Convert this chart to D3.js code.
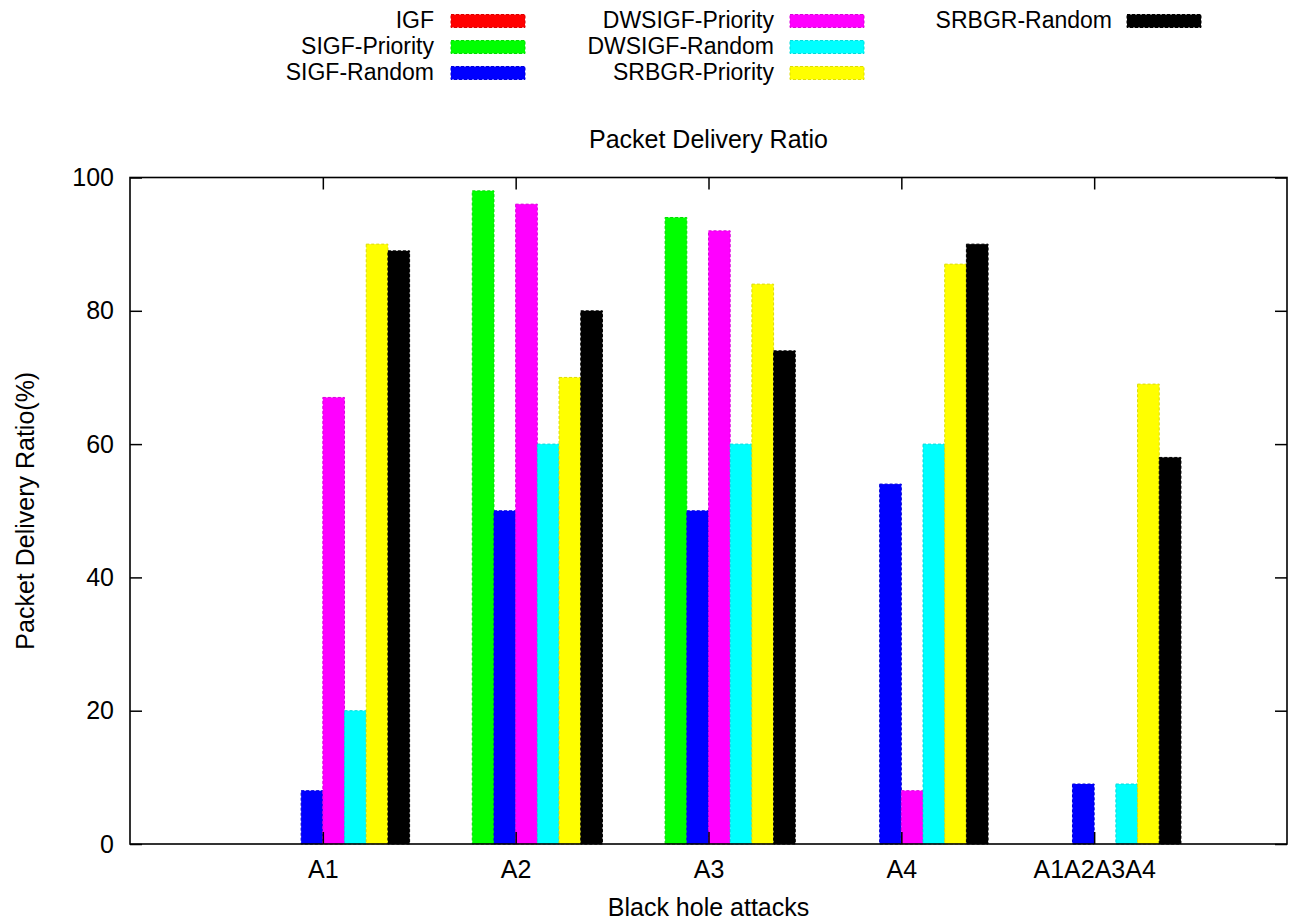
<!DOCTYPE html>
<html>
<head>
<meta charset="utf-8">
<script src="https://cdnjs.cloudflare.com/ajax/libs/d3/7.8.5/d3.min.js"></script>
<style>
  body { margin: 0; background: #fff; }
  svg { display: block; font-family: "Liberation Sans", Arial, sans-serif; }
</style>
</head>
<body>
<svg id="chart" width="1293" height="922"></svg>
<script>
const width = 1293;
const height = 922;

// data
var categories = ["A1", "A2", "A3", "A4", "A1A2A3A4"];
var seriesNames = ["IGF", "SIGF-Priority", "SIGF-Random", "DWSIGF-Priority",
                   "DWSIGF-Random", "SRBGR-Priority", "SRBGR-Random"];
var seriesColors = ["#ff0000", "#00ff00", "#0000ff", "#ff00ff", "#00ffff", "#ffff00", "#000000"];
var igf            = [0, 0, 0, 0, 0];
var sigfPriority   = [0, 98, 94, 0, 0];
var sigfRandom     = [8, 50, 50, 54, 9];
var dwsigfPriority = [67, 96, 92, 8, 0];
var dwsigfRandom   = [20, 60, 60, 60, 9];
var srbgrPriority  = [90, 70, 84, 87, 69];
var srbgrRandom    = [89, 80, 74, 90, 58];
var yTicks = [0, 20, 40, 60, 80, 100];

var seriesValues = [igf, sigfPriority, sigfRandom, dwsigfPriority, dwsigfRandom, srbgrPriority, srbgrRandom];

var margin = {left: 130, right: 6, top: 177.5, bottom: 78};
var plotW = width - margin.left - margin.right;
var plotH = height - margin.top - margin.bottom;
var fontSize = 25;
var legendFont = 23;

var svg = d3.select("#chart");
var g = svg.append("g").attr("transform", "translate(" + margin.left + "," + margin.top + ")");

var x = d3.scaleLinear().domain([0, 6]).range([0, plotW]);
var y = d3.scaleLinear().domain([0, 100]).range([plotH, 0]);
var step = x(1) - x(0);
var barW = step * 0.1125;

// bars
seriesValues.forEach(function (vals, s) {
    g.append("g")
        .selectAll("rect")
        .data(vals.map(function (v, i) { return {v: v, i: i}; }).filter(function (d) { return d.v > 0; }))
        .join("rect")
        .attr("x", function (d) { return x(d.i + 1) + (s - 3) * barW; })
        .attr("y", function (d) { return y(d.v); })
        .attr("width", barW)
        .attr("height", function (d) { return y(0) - y(d.v); })
        .attr("fill", seriesColors[s])
        .attr("stroke", d3.color(seriesColors[s]).darker(0.4))
        .attr("stroke-width", 1)
        .attr("stroke-dasharray", "3,2");
});

// axes
var tickLen = 12;
var yAxisL = d3.axisLeft(y).tickValues(yTicks).tickSize(-tickLen).tickPadding(16);
var yAxisR = d3.axisRight(y).tickValues(yTicks).tickSize(-tickLen).tickFormat("");
var xAxisB = d3.axisBottom(x).tickValues(d3.range(1, 6)).tickSize(-tickLen).tickPadding(16)
    .tickFormat(function (d) { return categories[d - 1]; });
var xAxisT = d3.axisTop(x).tickValues(d3.range(1, 6)).tickSize(-tickLen).tickFormat("");

function styleAxis(sel) {
    sel.select(".domain").remove();
    sel.selectAll(".tick line").attr("stroke", "#000").attr("stroke-width", 1.5);
    sel.selectAll(".tick text").attr("font-size", fontSize).attr("fill", "#000")
        .attr("font-family", "Liberation Sans, Arial, sans-serif");
}

g.append("g").call(yAxisL).call(styleAxis);
g.append("g").attr("transform", "translate(" + plotW + ",0)").call(yAxisR).call(styleAxis);
g.append("g").attr("transform", "translate(0," + plotH + ")").call(xAxisB).call(styleAxis);
g.append("g").call(xAxisT).call(styleAxis);

// frame
g.append("rect")
    .attr("width", plotW).attr("height", plotH)
    .attr("fill", "none").attr("stroke", "#000").attr("stroke-width", 1.6);

// titles
svg.append("text")
    .attr("x", margin.left + plotW / 2).attr("y", 148)
    .attr("text-anchor", "middle").attr("font-size", fontSize)
    .text("Packet Delivery Ratio");

svg.append("text")
    .attr("x", margin.left + plotW / 2).attr("y", 916)
    .attr("text-anchor", "middle").attr("font-size", fontSize)
    .text("Black hole attacks");

svg.append("text")
    .attr("transform", "translate(34," + (margin.top + plotH / 2) + ") rotate(-90)")
    .attr("text-anchor", "middle").attr("font-size", fontSize)
    .text("Packet Delivery Ratio(%)");

// legend
var legendCols = [
    {textEnd: 434, swatch: 451},
    {textEnd: 774, swatch: 790},
    {textEnd: 1112, swatch: 1127}
];
var rowY = [21, 47, 73];
seriesNames.forEach(function (name, s) {
    var col = legendCols[Math.floor(s / 3)];
    var yy = rowY[s % 3];
    svg.append("text")
        .attr("x", col.textEnd).attr("y", yy + 7)
        .attr("text-anchor", "end").attr("font-size", legendFont)
        .text(name);
    svg.append("rect")
        .attr("x", col.swatch).attr("y", yy - 6.5)
        .attr("width", 74).attr("height", 13)
        .attr("fill", seriesColors[s])
        .attr("stroke", d3.color(seriesColors[s]).darker(0.4))
        .attr("stroke-width", 1)
        .attr("stroke-dasharray", "3,2");
});
</script>
</body>
</html>
